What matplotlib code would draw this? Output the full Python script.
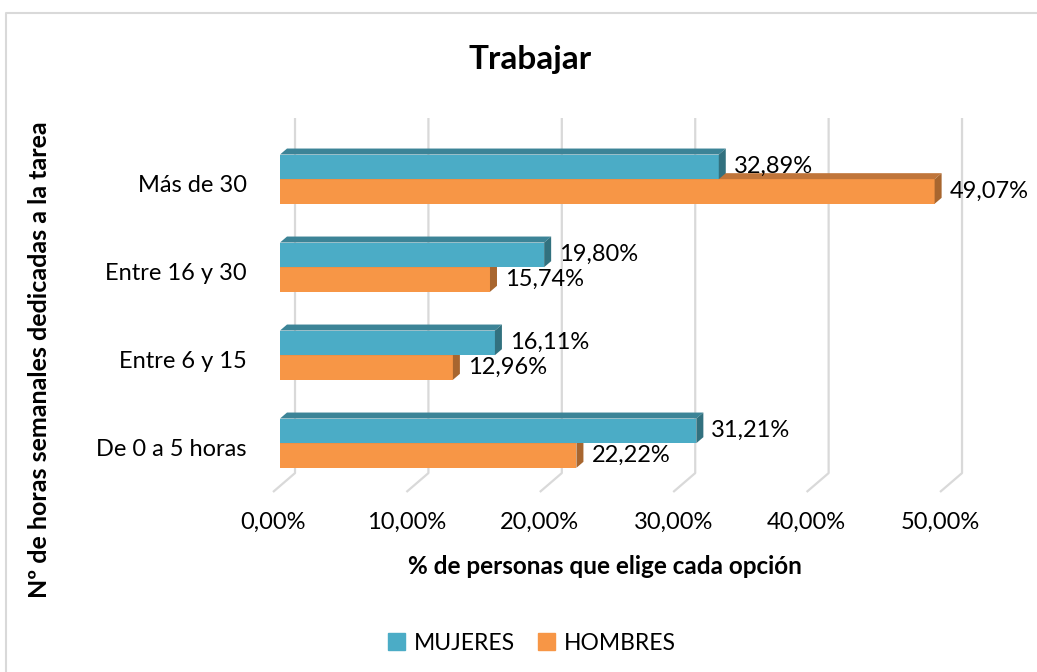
import numpy as np
import matplotlib.pyplot as plt
from matplotlib.patches import Polygon, Patch
from matplotlib.lines import Line2D

categorias = ['De 0 a 5 horas', 'Entre 6 y 15', 'Entre 16 y 30', 'Más de 30']
mujeres = [31.21, 16.11, 19.80, 32.89]
hombres = [22.22, 12.96, 15.74, 49.07]
ticks = [0, 10, 20, 30, 40, 50]

plt.rcParams['font.family'] = ['Lato', 'DejaVu Sans']

W, H = 1037, 672
fig = plt.figure(figsize=(W / 100, H / 100), dpi=100)
ax = fig.add_axes([273 / W, 1 - 492 / H, 693.7 / W, 374 / H])
ax.set_xlim(0, 52)
ax.set_ylim(-0.51, 3.74)
ax.patch.set_alpha(0)
for s in ax.spines.values():
    s.set_visible(False)

# 3D offsets (data units)
b0 = 0.525          # bar front start
dx, dy = 0.525, 0.068  # bar depth
gx, gy = 1.65, -0.295  # back wall / floor

fs = 17

def fmt(v):
    return f"{v:.2f}".replace('.', ',') + '%'

# gridlines on back wall + floor
for t in ticks:
    ax.plot([t + gx, t + gx, t], [3.74, gy, -0.51], color='#d9d9d9', lw=1.6,
            zorder=1, clip_on=False, solid_capstyle='butt')

y = np.arange(len(categorias))
h = 0.28
y_muj = y + 0.045 + h / 2
y_hom = y + 0.045 - h / 2

def bar3d(ycen, vals, front, top, side):
    ax.barh(ycen, vals, left=b0, height=h, color=front, zorder=3, linewidth=0)
    for yc, v in zip(ycen, vals):
        y0, y1 = yc - h / 2, yc + h / 2
        x1 = b0 + v
        ax.add_patch(Polygon([(b0, y1), (b0 + dx, y1 + dy), (x1 + dx, y1 + dy), (x1, y1)],
                             closed=True, color=top, zorder=3, lw=0))
        ax.add_patch(Polygon([(x1, y0), (x1, y1), (x1 + dx, y1 + dy), (x1 + dx, y0 + dy)],
                             closed=True, color=side, zorder=3, lw=0))

bar3d(y_hom, hombres, '#f79646', '#c0753a', '#a8662f')
bar3d(y_muj, mujeres, '#4bacc6', '#3c8497', '#32717f')

for yc, v in zip(y_muj, mujeres):
    ax.text(b0 + v + dx + 0.6, yc, fmt(v), va='center', ha='left', fontsize=fs,
            color='#000000', zorder=4, clip_on=False)
for yc, v in zip(y_hom, hombres):
    ax.text(b0 + v + dx + 0.6, yc, fmt(v), va='center', ha='left', fontsize=fs,
            color='#000000', zorder=4, clip_on=False)

ax.set_xticks(ticks)
ax.set_xticklabels([fmt(t) for t in ticks], fontsize=fs)
ax.set_yticks(y)
ax.set_yticklabels(categorias, fontsize=fs)
ax.tick_params(axis='x', length=0, pad=14)
ax.tick_params(axis='y', length=0, pad=19)

fig.text(530 / W, 1 - 60 / H, 'Trabajar', ha='center', va='center',
         fontsize=24, weight='bold')
fig.text(605 / W, 1 - 566 / H, '% de personas que elige cada opción', ha='center',
         va='center', fontsize=17.5, weight='bold')
fig.text(40 / W, 1 - 360 / H, 'Nº de horas semanales dedicadas a la tarea', ha='center',
         va='center', fontsize=18, weight='bold', rotation=90)

handles = [Patch(color='#4bacc6', label='MUJERES'), Patch(color='#f79646', label='HOMBRES')]
fig.legend(handles=handles, loc='center', bbox_to_anchor=(532 / W, 1 - 643 / H), ncol=2,
           frameon=False, fontsize=16.5, handlelength=0.75, handleheight=0.75,
           handletextpad=0.4, columnspacing=1.0)

# chart border (left and top visible)
fig.add_artist(Line2D([6 / W, 6 / W, 1.0], [0.0, 1 - 13 / H, 1 - 13 / H],
                      transform=fig.transFigure, color='#d9d9d9', lw=1.5))

fig.savefig('out.png', dpi=100)
